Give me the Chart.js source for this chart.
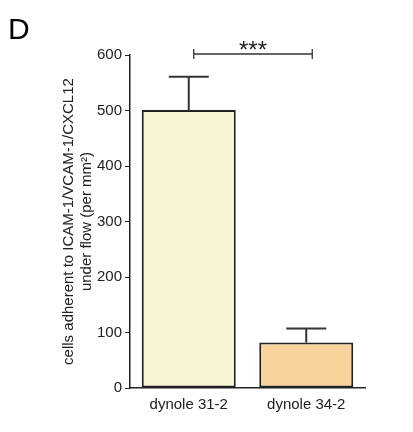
<!DOCTYPE html><html><head><script src="https://cdn.jsdelivr.net/npm/chart.js@4"></script>
<style>body{margin:0;background:#fff}#w{position:relative;width:413px;height:432px}#D{position:absolute;left:8px;top:12px;font:30px Arial,"Liberation Sans";}</style></head><body>
<div id="w"><div id="D">D</div><canvas id="c" width="413" height="432"></canvas></div>
<script>
const categories=["dynole 31-2","dynole 34-2"];
const values=[501,82];
const errors=[60,25];
const yTicks=[0,100,200,300,400,500,600];
const sig="***";
const colors=["#f8f6d2","#f9d29c"];
const extra={id:'extra',afterDatasetsDraw(ch){
 const c=ch.ctx,x=ch.scales.x,y=ch.scales.y;
 c.save();c.strokeStyle='#333';c.lineWidth=2;
 values.forEach((v,i)=>{const m=ch.getDatasetMeta(0).data[i];const cx=m.x,t=y.getPixelForValue(v),e=y.getPixelForValue(v+errors[i]);
  c.beginPath();c.moveTo(cx,t);c.lineTo(cx,e);c.moveTo(cx-20,e);c.lineTo(cx+20,e);c.stroke();});
 const x1=x.getPixelForValue(0)+5,x2=x.getPixelForValue(1)+6,yy=y.getPixelForValue(600)-1;
 c.lineWidth=1.3;c.beginPath();c.moveTo(x1,yy);c.lineTo(x2,yy);c.moveTo(x1,yy-5);c.lineTo(x1,yy+5);c.moveTo(x2,yy-5);c.lineTo(x2,yy+5);c.stroke();
 c.fillStyle='#222';c.font='24px Arial';c.textAlign='center';c.fillText(sig,(x1+x2)/2,yy+4);
 c.restore();}};
new Chart(document.getElementById('c'),{type:'bar',data:{labels:categories,datasets:[{data:values,backgroundColor:colors,borderColor:'#222',borderWidth:2,borderSkipped:false,categoryPercentage:0.8,barPercentage:1}]},
options:{responsive:false,animation:false,layout:{padding:{top:55,right:48,left:56,bottom:18}},plugins:{legend:{display:false},tooltip:{enabled:false}},
scales:{y:{min:0,max:600,afterBuildTicks(a){a.ticks=yTicks.map(v=>({value:v}));},afterFit(a){a.width=74;},grid:{drawOnChartArea:false,color:'#222',tickLength:5},border:{color:'#222',width:1.5},ticks:{color:'#222',font:{size:15,family:'Arial'}},
 title:{display:true,text:['cells adherent to ICAM-1/VCAM-1/CXCL12','under flow (per mm²)'],color:'#222',font:{size:15,family:'Arial'},padding:{bottom:2}}},
x:{offset:true,grid:{display:false},border:{color:'#222',width:1.5},ticks:{color:'#222',font:{size:15,family:'Arial'},padding:0}}}},plugins:[extra]});
</script></body></html>
